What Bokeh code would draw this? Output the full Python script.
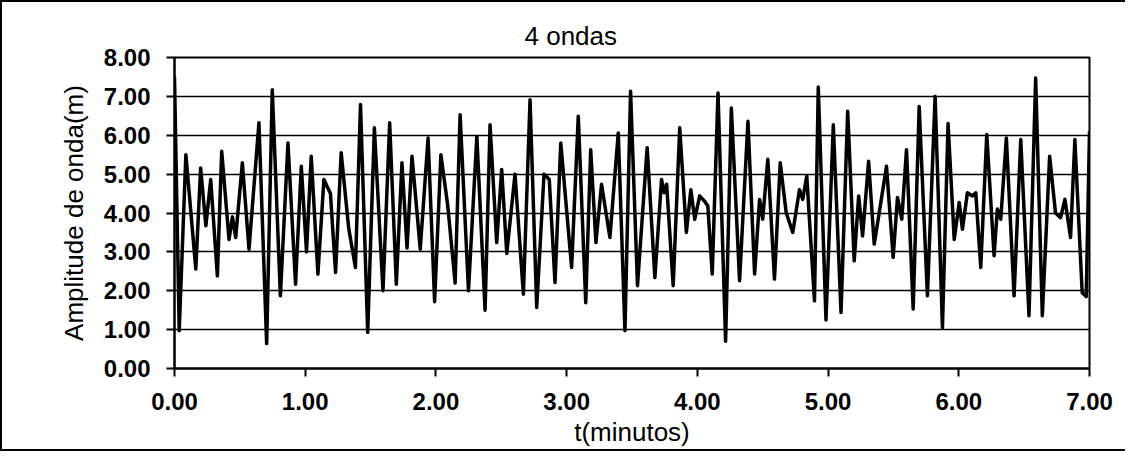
from bokeh.plotting import figure
from bokeh.models import NumeralTickFormatter, FixedTicker, Range1d
from bokeh.embed import file_html
from bokeh.resources import INLINE

title_text = "4 ondas"
x_label = "t(minutos)"
y_label = "Amplitude de onda(m)"
x_ticks = [0, 1, 2, 3, 4, 5, 6, 7]
y_ticks = [0, 1, 2, 3, 4, 5, 6, 7, 8]

t_min = [0.000, 0.036, 0.087, 0.163, 0.200, 0.240, 0.277, 0.328, 0.361, 0.417,
         0.443, 0.468, 0.519, 0.570, 0.646, 0.705, 0.748, 0.810, 0.868, 0.926,
         0.970, 1.010, 1.046, 1.097, 1.143, 1.193, 1.232, 1.275, 1.333, 1.384,
         1.423, 1.478, 1.529, 1.595, 1.646, 1.697, 1.740, 1.779, 1.817, 1.880,
         1.940, 1.990, 2.038, 2.090, 2.147, 2.185, 2.249, 2.313, 2.376, 2.414,
         2.465, 2.503, 2.542, 2.605, 2.669, 2.720, 2.771, 2.827, 2.867, 2.911,
         2.955, 3.038, 3.089, 3.146, 3.184, 3.224, 3.267, 3.331, 3.395, 3.446,
         3.489, 3.542, 3.616, 3.675, 3.726, 3.745, 3.765, 3.815, 3.865, 3.916,
         3.950, 3.980, 4.018, 4.056, 4.080, 4.114, 4.158, 4.216, 4.260, 4.323,
         4.387, 4.438, 4.476, 4.500, 4.539, 4.590, 4.634, 4.680, 4.730, 4.781,
         4.806, 4.837, 4.896, 4.925, 4.984, 5.040, 5.099, 5.150, 5.200, 5.234,
         5.264, 5.310, 5.353, 5.391, 5.447, 5.498, 5.531, 5.564, 5.600, 5.651,
         5.697, 5.760, 5.819, 5.875, 5.918, 5.965, 6.003, 6.028, 6.066, 6.104,
         6.130, 6.168, 6.214, 6.270, 6.295, 6.321, 6.364, 6.423, 6.474, 6.537,
         6.588, 6.639, 6.695, 6.740, 6.779, 6.812, 6.855, 6.888, 6.944, 6.975,
         7.000]

amplitude = [7.50, 0.97, 5.50, 2.56, 5.16, 3.67, 4.86, 2.38, 5.59, 3.32,
             3.90, 3.37, 5.29, 3.07, 6.32, 0.64, 7.17, 1.87, 5.80, 2.17,
             5.20, 3.00, 5.46, 2.43, 4.86, 4.50, 2.47, 5.55, 3.60, 2.60,
             6.79, 0.93, 6.19, 2.00, 6.32, 2.17, 5.29, 3.10, 5.46, 3.07,
             5.93, 1.72, 5.50, 4.20, 2.20, 6.53, 2.00, 5.97, 1.50, 6.27,
             3.24, 5.12, 2.96, 5.00, 1.91, 6.91, 1.57, 5.00, 4.86, 2.21,
             5.80, 2.60, 6.49, 1.69, 5.63, 3.24, 4.74, 3.37, 6.06, 0.97,
             7.13, 2.13, 5.68, 2.34, 4.86, 4.52, 4.74, 2.13, 6.19, 3.50,
             4.60, 3.84, 4.44, 4.30, 4.18, 2.43, 7.09, 0.70, 6.70, 2.26,
             6.36, 2.43, 4.35, 3.84, 5.38, 2.30, 5.29, 4.00, 3.50, 4.60,
             4.35, 4.95, 1.74, 7.24, 1.25, 6.27, 1.44, 6.62, 2.77, 4.44,
             3.41, 5.33, 3.20, 4.00, 5.20, 2.86, 4.40, 3.84, 5.63, 1.53,
             6.74, 1.87, 7.00, 1.05, 6.30, 3.32, 4.27, 3.58, 4.52, 4.44,
             4.52, 2.60, 6.02, 2.90, 4.10, 3.84, 5.93, 1.87, 5.89, 1.36,
             7.47, 1.36, 5.46, 4.00, 3.88, 4.35, 3.37, 5.89, 1.95, 1.85,
             6.10]

FONT = "Liberation Sans"

p = figure(width=1125, height=451, output_backend="svg", toolbar_location=None,
           x_range=Range1d(0, 7), y_range=Range1d(0, 8),
           min_border_left=172, min_border_right=38,
           min_border_top=55, min_border_bottom=85,
           background_fill_color="white", border_fill_color="white")
p.styles = {"border-left": "2px solid black", "border-top": "2px solid black",
            "border-bottom": "2px solid black"}

p.title.text = title_text
p.title.text_font = FONT
p.title.text_font_size = "26px"
p.title.text_font_style = "normal"
p.title.align = "left"
p.title.offset = 350
p.title.standoff = 13
p.title.text_color = "black"

p.line(t_min, amplitude, line_color="black", line_width=3.5, line_join="round")

for ax in (p.xaxis[0], p.yaxis[0]):
    ax.formatter = NumeralTickFormatter(format="0.00")
    ax.major_label_text_font = FONT
    ax.major_label_text_font_size = "24px"
    ax.major_label_text_font_style = "bold"
    ax.major_label_text_color = "black"
    ax.axis_label_text_font = FONT
    ax.axis_label_text_font_size = "26px"
    ax.axis_label_text_font_style = "normal"
    ax.axis_label_text_color = "black"
    ax.axis_line_color = "black"
    ax.axis_line_width = 2
    ax.major_tick_line_color = "black"
    ax.major_tick_line_width = 2
    ax.major_tick_in = 0
    ax.major_tick_out = 8
    ax.minor_tick_line_color = None
    ax.major_label_standoff = 16

p.xaxis[0].ticker = FixedTicker(ticks=x_ticks)
p.yaxis[0].ticker = FixedTicker(ticks=y_ticks)
p.xaxis[0].axis_label = x_label
p.yaxis[0].axis_label = y_label
p.xaxis[0].axis_label_standoff = 4
p.yaxis[0].axis_label_standoff = 12

p.xgrid.grid_line_color = None
p.ygrid.ticker = FixedTicker(ticks=y_ticks)
p.ygrid.grid_line_color = "black"
p.ygrid.grid_line_width = 1.5
p.ygrid.grid_line_alpha = 1.0

p.outline_line_color = "black"
p.outline_line_width = 2

open("out.html", "w").write(file_html(p, INLINE))
